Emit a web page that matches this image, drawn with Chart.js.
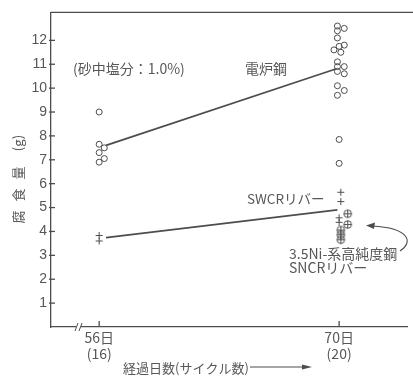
<!DOCTYPE html>
<html>
<head>
<meta charset="utf-8">
<script src="https://cdn.jsdelivr.net/npm/chart.js@4.4.0/dist/chart.umd.min.js"></script>
<style>
  body { margin: 0; background: #fff; }
  #wrap { width: 413px; height: 379px; position: relative; }
</style>
</head>
<body>
<div id="wrap"><canvas id="c"></canvas></div>
<script>
// ---- data ----
var xTicks = [56, 70];
var xTickLabels = [['56日', '(16)'], ['70日', '(20)']];
var yTicks = [1, 2, 3, 4, 5, 6, 7, 8, 9, 10, 11, 12];

// 電炉鋼 (circles)
var denroX = [56, 56, 56.3, 56, 56.3, 56,
              69.9, 70.3, 69.9, 69.9, 69.7, 70, 70.3, 70.1, 69.9, 69.9, 70.3, 69.9, 70.3, 69.9, 70.3, 69.9, 70, 70];
var denroY = [9.0, 7.65, 7.5, 7.3, 7.05, 6.9,
              12.6, 12.5, 12.4, 12.1, 11.6, 11.75, 11.8, 11.5, 11.1, 10.9, 10.9, 10.7, 10.6, 10.1, 9.9, 9.7, 7.85, 6.85];
var denroLine = [[56.4, 7.6], [69.8, 10.8]];

// SWCRリバー (crosses)
var swcrX = [56, 56, 70.1, 70.1, 70, 70];
var swcrY = [3.83, 3.6, 5.64, 5.25, 4.57, 4.38];
var swcrLine = [[56.4, 3.74], [69.9, 4.9]];

// 3.5Ni-系高純度鋼 SNCRリバー (circled crosses)
var sncrX = [70.5, 70.5, 70.1, 70.1, 70.1];
var sncrY = [4.74, 4.29, 4.06, 3.86, 3.65];

var INK = '#4d4d4d';
var TXT = '#575757';
var JP = '"Noto Sans CJK JP", "Noto Sans", sans-serif';

function pts(xs, ys) { return xs.map(function (x, i) { return { x: x, y: ys[i] }; }); }
function seg(a) { return a.map(function (p) { return { x: p[0], y: p[1] }; }); }

// ⊕ marker
var plusCircle = document.createElement('canvas');
plusCircle.width = 11; plusCircle.height = 11;
(function () {
  var g = plusCircle.getContext('2d');
  g.strokeStyle = INK; g.lineWidth = 1;
  g.beginPath(); g.arc(5.5, 5.5, 3.8, 0, Math.PI * 2); g.stroke();
  g.beginPath(); g.moveTo(5.5, 1.7); g.lineTo(5.5, 9.3); g.moveTo(1.7, 5.5); g.lineTo(9.3, 5.5); g.stroke();
})();

var deco = {
  id: 'deco',
  afterDraw: function (chart) {
    var ctx = chart.ctx, a = chart.chartArea;
    var xs = chart.scales.x, ys = chart.scales.y;
    ctx.save();
    ctx.strokeStyle = INK; ctx.lineWidth = 1.3;
    // top border
    ctx.beginPath(); ctx.moveTo(a.left, a.top); ctx.lineTo(413, a.top); ctx.stroke();
    // y ticks
    yTicks.forEach(function (v) {
      var y = ys.getPixelForValue(v);
      ctx.beginPath(); ctx.moveTo(a.left - 2, y); ctx.lineTo(a.left + 4, y); ctx.stroke();
    });
    // x ticks
    xTicks.forEach(function (v) {
      var x = xs.getPixelForValue(v);
      ctx.beginPath(); ctx.moveTo(x, a.bottom); ctx.lineTo(x, a.bottom - 6); ctx.stroke();
    });
    // axis break
    ctx.fillStyle = '#fff';
    ctx.fillRect(76, a.bottom - 2, 5, 4);
    ctx.lineWidth = 1;
    ctx.beginPath();
    ctx.moveTo(75, a.bottom + 4); ctx.lineTo(78, a.bottom - 4);
    ctx.moveTo(79, a.bottom + 4); ctx.lineTo(82, a.bottom - 4);
    ctx.stroke();

    // annotations
    ctx.fillStyle = TXT;
    ctx.textBaseline = 'middle';
    ctx.textAlign = 'left';
    ctx.font = '14px ' + JP;
    ctx.fillText('(砂中塩分：1.0%)', 73, 69);
    ctx.fillText('電炉鋼', 245, 69);
    ctx.font = '13.5px ' + JP;
    ctx.fillText('SWCRリバー', 247, 199);
    ctx.font = '14px ' + JP;
    ctx.fillText('3.5Ni-系高純度鋼', 289, 254);
    ctx.fillText('SNCRリバー', 289, 268);

    // curved arrow
    ctx.strokeStyle = INK;
    ctx.lineWidth = 1.1;
    ctx.beginPath();
    ctx.moveTo(400, 251);
    ctx.bezierCurveTo(413, 243, 411, 228, 372, 226);
    ctx.stroke();
    ctx.fillStyle = INK;
    ctx.beginPath();
    ctx.moveTo(366, 225.5); ctx.lineTo(375, 222.5); ctx.lineTo(374, 229); ctx.closePath(); ctx.fill();

    // y title (rotated)
    ctx.fillStyle = TXT;
    ctx.font = '13px ' + JP;
    ctx.textAlign = 'center';
    [['腐', 217], ['食', 195], ['量', 173], ['(g)', 143]].forEach(function (c) {
      ctx.save(); ctx.translate(18, c[1]); ctx.rotate(-Math.PI / 2);
      ctx.fillText(c[0], 0, 0); ctx.restore();
    });

    // x title with arrow
    ctx.textAlign = 'left';
    ctx.font = '13px ' + JP;
    ctx.fillText('経過日数(サイクル数)', 123, 368);
    ctx.strokeStyle = INK; ctx.lineWidth = 1.1;
    ctx.beginPath(); ctx.moveTo(250, 367); ctx.lineTo(305, 367); ctx.stroke();
    ctx.fillStyle = INK;
    ctx.beginPath(); ctx.moveTo(312, 367); ctx.lineTo(302, 364.5); ctx.lineTo(302, 369.5); ctx.closePath(); ctx.fill();
    ctx.restore();
  }
};

new Chart(document.getElementById('c').getContext('2d'), {
  type: 'scatter',
  data: {
    datasets: [
      { data: pts(denroX, denroY), pointStyle: 'circle', pointRadius: 3, borderColor: INK, backgroundColor: 'rgba(0,0,0,0)', borderWidth: 1 },
      { type: 'line', data: seg(denroLine), borderColor: INK, borderWidth: 1.8, pointRadius: 0 },
      { data: pts(swcrX, swcrY), pointStyle: 'cross', pointRadius: 3.5, borderColor: INK, borderWidth: 1 },
      { type: 'line', data: seg(swcrLine), borderColor: INK, borderWidth: 1.8, pointRadius: 0 },
      { data: pts(sncrX, sncrY), pointStyle: plusCircle, pointRadius: 5 }
    ]
  },
  options: {
    responsive: true,
    maintainAspectRatio: false,
    animation: false,
    layout: { padding: { top: 7, right: 0, left: 0, bottom: 0 } },
    plugins: { legend: { display: false }, tooltip: { enabled: false } },
    scales: {
      x: {
        type: 'linear', min: 53.19, max: 73.96,
        afterFit: function (s) { s.height = 52; },
        afterBuildTicks: function (s) { s.ticks = xTicks.map(function (v) { return { value: v }; }); },
        grid: { drawOnChartArea: false, drawTicks: false },
        border: { color: INK, width: 1.3 },
        ticks: {
          padding: 3, color: TXT, maxRotation: 0, autoSkip: false,
          font: { family: JP, size: 14, lineHeight: 1.15 },
          callback: function (v) { return xTickLabels[xTicks.indexOf(v)]; }
        }
      },
      y: {
        min: 0, max: 13.17,
        afterFit: function (s) { s.width = 51; },
        afterBuildTicks: function (s) { s.ticks = yTicks.map(function (v) { return { value: v }; }); },
        grid: { drawOnChartArea: false, drawTicks: false },
        border: { color: INK, width: 1.3 },
        ticks: { padding: 4, color: TXT, font: { family: 'Liberation Sans, sans-serif', size: 14 } }
      }
    }
  },
  plugins: [deco]
});
</script>
</body>
</html>
